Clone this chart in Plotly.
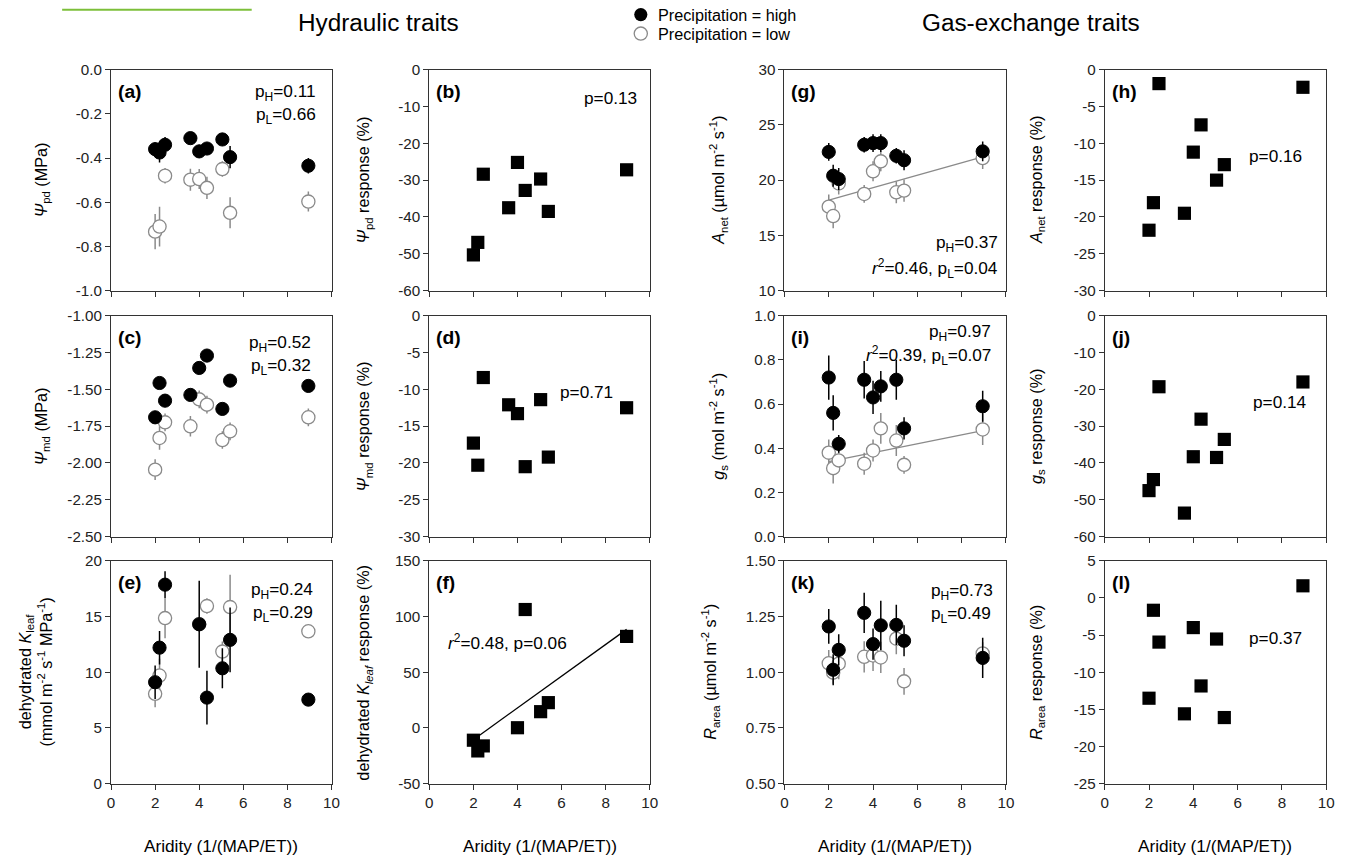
import plotly.graph_objects as go

W, H = 1346, 856

# ---------------- data ----------------
aridity = [2.0, 2.2, 2.45, 3.6, 4.0, 4.35, 5.05, 5.4, 8.95]
x_ticks = [0, 2, 4, 6, 8, 10]
x_ticktext = ["0", "2", "4", "6", "8", "10"]

psi_pd_high = [-0.36, -0.375, -0.34, -0.31, -0.37, -0.357, -0.316, -0.396, -0.435]
psi_pd_high_err = [0.03, 0.045, 0.035, 0.02, 0.03, 0.02, 0.025, 0.05, 0.035]
psi_pd_low = [-0.733, -0.71, -0.48, -0.498, -0.495, -0.535, -0.45, -0.648, -0.597]
psi_pd_low_err = [0.08, 0.09, 0.035, 0.05, 0.045, 0.05, 0.035, 0.07, 0.045]
psi_pd_resp = [-50.3, -46.9, -28.4, -37.5, -25.2, -32.8, -29.7, -38.5, -27.2]

psi_md_high = [-1.69, -1.457, -1.577, -1.538, -1.355, -1.271, -1.633, -1.441, -1.477]
psi_md_high_err = [0.04, 0.04, 0.04, 0.03, 0.03, 0.02, 0.04, 0.04, 0.035]
psi_md_low = [-2.045, -1.83, -1.724, -1.751, -1.568, -1.604, -1.844, -1.785, -1.69]
psi_md_low_err = [0.07, 0.08, 0.06, 0.07, 0.06, 0.06, 0.06, 0.06, 0.06]
psi_md_resp = [-17.3, -20.3, -8.4, -12.1, -13.3, -20.5, -11.4, -19.2, -12.5]

kleaf_high = [9.1, 12.2, 17.85, None, 14.3, 7.72, 10.35, 12.9, 7.54]
kleaf_high_err = [1.5, 1.5, 1.2, 0, 3.9, 2.4, 1.8, 2.9, 0.5]
kleaf_low = [8.06, 9.7, 14.85, None, 14.3, 15.93, 11.85, 15.84, 13.67]
kleaf_low_err = [1.2, 1.5, 1.8, 0, 0.5, 0.7, 0.9, 2.9, 0.2]
kleaf_resp = [-11.0, -20.6, -16.1, None, 0.2, 106.2, 14.6, 22.7, 82.1]

anet_high = [22.55, 20.4, 20.1, 23.2, 23.35, 23.35, 22.2, 21.8, 22.6]
anet_high_err = [0.8, 1.0, 1.0, 0.7, 0.8, 0.8, 0.7, 0.9, 0.9]
anet_low = [17.6, 16.75, 19.7, 18.75, 20.8, 21.7, 18.9, 19.05, 22.0]
anet_low_err = [1.1, 1.1, 1.0, 0.8, 0.9, 0.9, 1.0, 1.0, 1.0]
anet_resp = [-21.8, -18.06, -1.9, -19.5, -11.2, -7.5, -15.0, -12.9, -2.4]

gs_high = [0.72, 0.56, 0.42, 0.71, 0.63, 0.68, 0.71, 0.49, 0.59]
gs_high_err = [0.1, 0.08, 0.04, 0.085, 0.075, 0.07, 0.09, 0.05, 0.07]
gs_low = [0.38, 0.31, 0.345, 0.33, 0.39, 0.49, 0.435, 0.325, 0.485]
gs_low_err = [0.06, 0.07, 0.05, 0.05, 0.05, 0.07, 0.07, 0.04, 0.07]
gs_resp = [-47.5, -44.5, -19.3, -53.6, -38.3, -28.1, -38.5, -33.6, -18.0]

rarea_high = [1.205, 1.011, 1.10, 1.266, 1.126, 1.21, 1.212, 1.141, 1.064]
rarea_high_err = [0.078, 0.07, 0.07, 0.09, 0.07, 0.11, 0.09, 0.07, 0.09]
rarea_low = [1.04, 0.998, 1.038, 1.069, 1.075, 1.066, 1.15, 0.959, 1.084]
rarea_low_err = [0.06, 0.05, 0.07, 0.07, 0.07, 0.07, 0.07, 0.06, 0.05]
rarea_resp = [-13.5, -1.67, -5.95, -15.6, -4.0, -11.85, -5.54, -16.1, 1.62]

# regression lines (endpoints)
fit_x = [2.0, 8.95]
anet_low_fit = [18.2, 22.1]
gs_low_fit = [0.34, 0.48]
kleaf_resp_fit = [-10.5, 88.4]

# y tick labels per panel
yt_a = [-1.0, -0.8, -0.6, -0.4, -0.2, 0.0]
yl_a = ["-1.0", "-0.8", "-0.6", "-0.4", "-0.2", "0.0"]
yt_b = [-60, -50, -40, -30, -20, -10, 0]
yl_b = ["-60", "-50", "-40", "-30", "-20", "-10", "0"]
yt_c = [-2.5, -2.25, -2.0, -1.75, -1.5, -1.25, -1.0]
yl_c = ["-2.50", "-2.25", "-2.00", "-1.75", "-1.50", "-1.25", "-1.00"]
yt_d = [-30, -25, -20, -15, -10, -5, 0]
yl_d = ["-30", "-25", "-20", "-15", "-10", "-5", "0"]
yt_e = [0, 5, 10, 15, 20]
yl_e = ["0", "5", "10", "15", "20"]
yt_f = [-50, 0, 50, 100, 150]
yl_f = ["-50", "0", "50", "100", "150"]
yt_g = [10, 15, 20, 25, 30]
yl_g = ["10", "15", "20", "25", "30"]
yt_h = [-30, -25, -20, -15, -10, -5, 0]
yl_h = ["-30", "-25", "-20", "-15", "-10", "-5", "0"]
yt_i = [0.0, 0.2, 0.4, 0.6, 0.8, 1.0]
yl_i = ["0.0", "0.2", "0.4", "0.6", "0.8", "1.0"]
yt_j = [-60, -50, -40, -30, -20, -10, 0]
yl_j = ["-60", "-50", "-40", "-30", "-20", "-10", "0"]
yt_k = [0.5, 0.75, 1.0, 1.25, 1.5]
yl_k = ["0.50", "0.75", "1.00", "1.25", "1.50"]
yt_l = [-25, -20, -15, -10, -5, 0, 5]
yl_l = ["-25", "-20", "-15", "-10", "-5", "0", "5"]

# ---------------- layout geometry (screen pixels) ----------------
FONT = "Liberation Sans, Arial, Helvetica, sans-serif"
cols = [(109, 330), (428, 649), (784, 1006), (1105, 1327)]
rows = [(69, 290), (315, 536), (560, 783)]

# page-to-photo calibration (measured)
OX, SX = 1.72, 0.9934
OY, SY = 8.4, 0.980
FS = 1.0 / ((SX + SY) / 2)

def fx(X):
    return (X - OX) / SX / W

def fy(Y):
    return 1 - (Y - OY) / SY / H

AX = "#333333"
GRAY = "#8a8a8a"

panels = [
    ("a", 0, 0, yt_a, yl_a, "circ", (psi_pd_high, psi_pd_high_err, psi_pd_low, psi_pd_low_err), None),
    ("b", 0, 1, yt_b, yl_b, "sq", psi_pd_resp, None),
    ("g", 0, 2, yt_g, yl_g, "circ", (anet_high, anet_high_err, anet_low, anet_low_err), (anet_low_fit, GRAY)),
    ("h", 0, 3, yt_h, yl_h, "sq", anet_resp, None),
    ("c", 1, 0, yt_c, yl_c, "circ", (psi_md_high, psi_md_high_err, psi_md_low, psi_md_low_err), None),
    ("d", 1, 1, yt_d, yl_d, "sq", psi_md_resp, None),
    ("i", 1, 2, yt_i, yl_i, "circ", (gs_high, gs_high_err, gs_low, gs_low_err), (gs_low_fit, GRAY)),
    ("j", 1, 3, yt_j, yl_j, "sq", gs_resp, None),
    ("e", 2, 0, yt_e, yl_e, "circ", (kleaf_high, kleaf_high_err, kleaf_low, kleaf_low_err), None),
    ("f", 2, 1, yt_f, yl_f, "sq", kleaf_resp, (kleaf_resp_fit, "black")),
    ("k", 2, 2, yt_k, yl_k, "circ", (rarea_high, rarea_high_err, rarea_low, rarea_low_err), None),
    ("l", 2, 3, yt_l, yl_l, "sq", rarea_resp, None),
]

fig = go.Figure()
layout = dict(
    width=W, height=H, margin=dict(l=0, r=0, t=0, b=0),
    paper_bgcolor="white", plot_bgcolor="rgba(0,0,0,0)", showlegend=False,
    font=dict(family=FONT, color="black"),
)

tickfont = dict(family=FONT, size=15 * FS, color="#222222")
MS = 13 * FS

for n, (lab, r, c, yt, yl, kind, data, fit) in enumerate(panels, start=1):
    xs = "x" if n == 1 else f"x{n}"
    ys = "y" if n == 1 else f"y{n}"
    x0, x1 = cols[c]
    y0, y1 = rows[r]
    layout["xaxis" if n == 1 else f"xaxis{n}"] = dict(
        domain=[fx(x0), fx(x1)], range=[0, 10], anchor=ys,
        tickvals=x_ticks, ticktext=x_ticktext, showticklabels=(r == 2),
        ticks="outside", ticklen=5, tickwidth=1, tickcolor=AX,
        showline=True, linecolor=AX, linewidth=1, mirror=True,
        showgrid=False, zeroline=False, tickfont=tickfont,
    )
    layout["yaxis" if n == 1 else f"yaxis{n}"] = dict(
        domain=[fy(y1), fy(y0)], range=[yt[0], yt[-1]], anchor=xs,
        tickvals=yt, ticktext=yl,
        ticks="outside", ticklen=5, tickwidth=1, tickcolor=AX,
        showline=True, linecolor=AX, linewidth=1, mirror=True,
        showgrid=False, zeroline=False, tickfont=tickfont,
    )
    if fit is not None:
        fyv, fc = fit
        fig.add_trace(go.Scatter(x=fit_x, y=fyv, mode="lines", xaxis=xs, yaxis=ys,
                                 line=dict(color=fc, width=1.3), hoverinfo="skip"))
    if kind == "circ":
        hi, hie, lo, loe = data
        fig.add_trace(go.Scatter(
            x=aridity, y=lo, mode="markers", xaxis=xs, yaxis=ys,
            marker=dict(symbol="circle", size=MS, color="white",
                        line=dict(color=GRAY, width=1.3)),
            error_y=dict(type="data", array=loe, visible=True, color=GRAY,
                         thickness=1.5, width=0),
            cliponaxis=False))
        fig.add_trace(go.Scatter(
            x=aridity, y=hi, mode="markers", xaxis=xs, yaxis=ys,
            marker=dict(symbol="circle", size=MS, color="black",
                        line=dict(color="black", width=1)),
            error_y=dict(type="data", array=hie, visible=True, color="black",
                         thickness=1.5, width=0),
            cliponaxis=False))
    else:
        fig.add_trace(go.Scatter(
            x=aridity, y=data, mode="markers", xaxis=xs, yaxis=ys,
            marker=dict(symbol="square", size=MS, color="black"),
            cliponaxis=False))

# small hidden axis for legend markers (screen pixel coordinates)
layout["xaxis13"] = dict(domain=[fx(620), fx(660)], range=[620, 660], visible=False, anchor="y13")
layout["yaxis13"] = dict(domain=[fy(44), fy(10)], range=[44, 10], visible=False, anchor="x13")
legend_y = [14, 33]
fig.add_trace(go.Scatter(x=[640], y=[legend_y[0]], mode="markers", xaxis="x13", yaxis="y13",
                         marker=dict(symbol="circle", size=MS, color="black"), cliponaxis=False))
fig.add_trace(go.Scatter(x=[640], y=[legend_y[1]], mode="markers", xaxis="x13", yaxis="y13",
                         marker=dict(symbol="circle", size=MS, color="white",
                                     line=dict(color=GRAY, width=1.3)), cliponaxis=False))

ann = []

def text(x, y, s, size=16, xanchor="left", bold=False, angle=0):
    ann.append(dict(x=fx(x), y=fy(y), xref="paper", yref="paper",
                    text=("<b>%s</b>" % s if bold else s),
                    showarrow=False, xanchor=xanchor, yanchor="middle", textangle=angle,
                    font=dict(family=FONT, size=size * FS, color="black")))

text(377, 22, "Hydraulic traits", size=24, xanchor="center")
text(1031, 22, "Gas-exchange traits", size=24, xanchor="center")
text(655, 14, "Precipitation = high", size=16)
text(655, 33, "Precipitation = low", size=16)

for lab, r, c, *_ in panels:
    text(cols[c][0] + 5, rows[r][0] + 22, "(%s)" % lab, size=19, bold=True)

PS = 17
text(316, 92, "p<sub>H</sub>=0.11", PS, "right")
text(316, 115, "p<sub>L</sub>=0.66", PS, "right")
text(638, 97, "p=0.13", PS, "right")
text(1000, 243, "p<sub>H</sub>=0.37", PS, "right")
text(1000, 268, "<i>r</i><sup>2</sup>=0.46, p<sub>L</sub>=0.04", PS, "right")
text(1248, 155, "p=0.16", PS)
text(311, 343, "p<sub>H</sub>=0.52", PS, "right")
text(311, 366, "p<sub>L</sub>=0.32", PS, "right")
text(557, 391, "p=0.71", PS)
text(993, 332, "p<sub>H</sub>=0.97", PS, "right")
text(993, 355, "<i>r</i><sup>2</sup>=0.39, p<sub>L</sub>=0.07", PS, "right")
text(1252, 401, "p=0.14", PS)
text(313, 590, "p<sub>H</sub>=0.24", PS, "right")
text(313, 613, "p<sub>L</sub>=0.29", PS, "right")
text(445, 641, "<i>r</i><sup>2</sup>=0.48, p=0.06", PS)
text(929, 591, "p<sub>H</sub>=0.73", PS)
text(929, 614, "p<sub>L</sub>=0.49", PS)
text(1248, 637, "p=0.37", PS)

YS = 16
def ymid(r):
    return (rows[r][0] + rows[r][1]) / 2

text(40, ymid(0), "<i>Ψ</i><sub>pd</sub> (MPa)", YS, "center", angle=-90)
text(363, ymid(0), "<i>Ψ</i><sub>pd</sub> response (%)", YS, "center", angle=-90)
text(718, ymid(0), "<i>A</i><sub>net</sub> (µmol m<sup>-2</sup> s<sup>-1</sup>)", YS, "center", angle=-90)
text(1037, ymid(0), "<i>A</i><sub>net</sub> response (%)", YS, "center", angle=-90)
text(40, ymid(1), "<i>Ψ</i><sub>md</sub> (MPa)", YS, "center", angle=-90)
text(363, ymid(1), "<i>Ψ</i><sub>md</sub> response (%)", YS, "center", angle=-90)
text(718, ymid(1), "<i>g</i><sub>s</sub> (mol m<sup>-2</sup> s<sup>-1</sup>)", YS, "center", angle=-90)
text(1037, ymid(1), "<i>g</i><sub>s</sub> response (%)", YS, "center", angle=-90)
text(33, ymid(2), "dehydrated <i>K</i><sub>leaf</sub><br>(mmol m<sup>-2</sup> s<sup>-1</sup> MPa<sup>-1</sup>)", YS, "center", angle=-90)
text(363, ymid(2), "dehydrated <i>K</i><sub><i>leaf</i></sub> response (%)", YS, "center", angle=-90)
text(710, ymid(2), "<i>R</i><sub>area</sub> (µmol m<sup>-2</sup> s<sup>-1</sup>)", YS, "center", angle=-90)
text(1037, ymid(2), "<i>R</i><sub>area</sub> response (%)", YS, "center", angle=-90)

for c in range(4):
    text((cols[c][0] + cols[c][1]) / 2, 845, "Aridity (1/(MAP/ET))", 17, "center")

layout["annotations"] = ann
layout["shapes"] = [dict(type="line", xref="paper", yref="paper",
                         x0=fx(60), x1=fx(250), y0=1 - 0.8 / H, y1=1 - 0.8 / H,
                         line=dict(color="#7cbf3a", width=2))]

fig.update_layout(**layout)
fig.write_html("out.html",
               config={"displayModeBar": False, "staticPlot": True},
               post_script="document.documentElement.style.margin='0';"
                           "document.body.style.margin='0';"
                           "document.body.style.overflow='hidden';")
